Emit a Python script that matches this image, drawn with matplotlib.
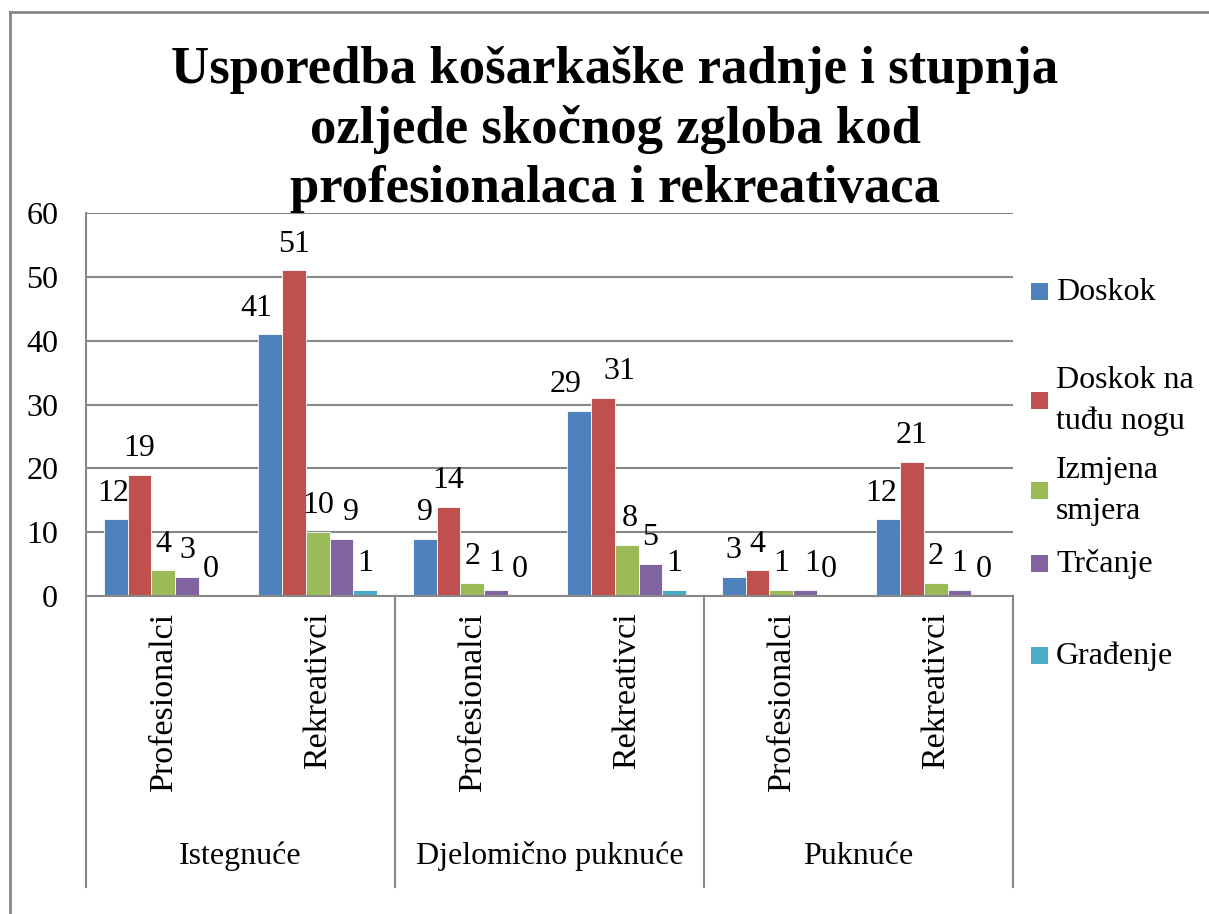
import matplotlib
matplotlib.use("Agg")
import matplotlib.pyplot as plt
import matplotlib.transforms as mtransforms
from matplotlib.patches import Rectangle
from matplotlib.lines import Line2D
import numpy as np

plt.rcParams['font.family'] = ['Liberation Serif', 'DejaVu Serif']

title_lines = ["Usporedba košarkaške radnje i stupnja",
               "ozljede skočnog zgloba kod",
               "profesionalaca i rekreativaca"]
groups = ["Istegnuće", "Djelomično puknuće", "Puknuće"]
subcats = ["Profesionalci", "Rekreativci"]
series_names = ["Doskok", "Doskok na\ntuđu nogu", "Izmjena\nsmjera", "Trčanje", "Građenje"]
colors = ["#4F81BD", "#C0504D", "#9BBB59", "#8064A2", "#4BACC6"]

doskok = [12, 41, 9, 29, 3, 12]
doskok_tudju = [19, 51, 14, 31, 4, 21]
izmjena = [4, 10, 2, 8, 1, 2]
trcanje = [3, 9, 1, 5, 1, 1]
gradjenje = [0, 1, 0, 1, 0, 0]
series = [doskok, doskok_tudju, izmjena, trcanje, gradjenje]

yticks = [0, 10, 20, 30, 40, 50, 60]

# horizontal nudges (points) of some data labels, as in the original layout
label_nudge = {(0, 0): -1.5, (0, 1): -10, (3, 1): 7, (0, 3): -9.5, (1, 3): 11.5,
               (2, 3): 2, (3, 4): 5, (0, 5): -5}

W, H = 1209, 914
fig = plt.figure(figsize=(W / 100, H / 100), dpi=100)
ax = fig.add_axes([86 / W, 1 - 596 / H, (1013 - 86) / W, (596 - 213) / H])

grid_c = "#888888"
fs = 23
n = len(series)
bw = 0.154
x = np.arange(len(doskok))
for i, (vals, c) in enumerate(zip(series, colors)):
    xs = x + (i - (n - 1) / 2) * bw
    ax.bar(xs, vals, width=bw, color=c, edgecolor='white', linewidth=0.6, zorder=3)
    for j, (xi, v) in enumerate(zip(xs, vals)):
        ax.annotate(str(v), (xi, v), xytext=(label_nudge.get((i, j), 0), 13.5),
                    textcoords='offset points', ha='center', va='baseline',
                    fontsize=fs, zorder=4)

ax.set_xlim(-0.5, len(doskok) - 0.5)
ax.set_ylim(0, 60)
ax.set_yticks(yticks)
ax.set_yticklabels([str(t) for t in yticks], fontsize=fs)
ax.tick_params(axis='y', length=0, pad=20)
ax.set_xticks([])
ax.yaxis.grid(True, color=grid_c, linewidth=1.5, zorder=0)
ax.set_axisbelow(True)
for s in ['top', 'right']:
    ax.spines[s].set_visible(False)
for s in ['left', 'bottom']:
    ax.spines[s].set_color(grid_c)
    ax.spines[s].set_linewidth(1.5)
    ax.spines[s].set_zorder(5)

trans = mtransforms.blended_transform_factory(ax.transData, ax.transAxes)
for i, xi in enumerate(x):
    ax.text(xi, -0.042, subcats[i % 2], transform=trans, rotation=90,
            ha='center', va='top', fontsize=24.5)
for g, name in enumerate(groups):
    ax.text(2 * g + 0.5, -0.679, name, transform=trans, ha='center', va='center', fontsize=fs)
for b in np.arange(-0.5, len(doskok), 2):
    ax.add_line(Line2D([b, b], [0, -0.76], transform=trans, color=grid_c,
                       linewidth=1.5, clip_on=False))

for k, line in enumerate(title_lines):
    fig.text(615 / W, 1 - (83 + 59.5 * k) / H, line, ha='center', va='baseline',
             fontsize=38, fontweight='bold')

# legend (manual placement)
leg_y = [292, 401, 491, 564, 656]
for name, c, yc in zip(series_names, colors, leg_y):
    fig.patches.append(Rectangle((1031 / W, 1 - (yc + 8) / H), 17 / W, 17 / H,
                                 transform=fig.transFigure, facecolor=c, edgecolor='none'))
    fig.text(1056 / W, 1 - yc / H, name, ha='left', va='center', fontsize=fs, linespacing=1.55)

# chart frame
fig.add_artist(Line2D([10 / W, 1], [1 - 12 / H, 1 - 12 / H], transform=fig.transFigure,
                      color=grid_c, linewidth=2))
fig.add_artist(Line2D([10 / W, 10 / W], [0, 1 - 12 / H], transform=fig.transFigure,
                      color=grid_c, linewidth=2))

fig.savefig("out.png", dpi=100)
